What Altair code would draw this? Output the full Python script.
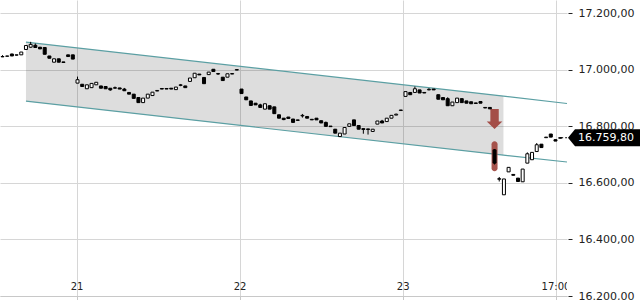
import altair as alt
import pandas as pd

# ---- candle data (one entry per bar, in time order) ----
opens = [17046, 17048, 17056, 17052, 17053, 17072, 17080, 17087, 17080, 17079,
         17049, 17027, 17039, 17028, 17053, 17053, 16953, 16949, 16933, 16937,
         16947, 16943, 16941, 16935, 16935, 16936, 16932, 16920, 16914, 16902,
         16884, 16900, 16909, 16925, 16934, 16932, 16935, 16930, 16945, 16943,
         16959, 16972, 16985, 16973, 16983, 17002, 16985, 16974, 16974, 16985,
         16999, 16932, 16904, 16890, 16882, 16876, 16861, 16873, 16869, 16841,
         16829, 16833, 16826, 16821, 16837, 16835, 16825, 16829, 16820, 16814,
         16801, 16790, 16764, 16773, 16800, 16823, 16803, 16792, 16791, 16782,
         16808, 16819, 16817, 16829, 16840, 16856, 16906, 16920, 16920, 16929,
         16920, 16929, 16932, 16912, 16902, 16898, 16873, 16884, 16898, 16890,
         16887, 16883, 16888, 16867, 16867, 16717, 16613, 16558, 16639, 16630,
         16617, 16604, 16670, 16682, 16711, 16737, 16760, 16773, 16753, 16758]
highs = [17052, 17049, 17057, 17053, 17063, 17086, 17099, 17093, 17081, 17080,
         17049, 17039, 17039, 17028, 17053, 17053, 16976, 16949, 16947, 16952,
         16956, 16943, 16941, 16935, 16941, 16936, 16936, 16920, 16914, 16902,
         16900, 16914, 16921, 16927, 16934, 16934, 16935, 16939, 16950, 16943,
         16971, 16988, 16985, 16973, 16992, 17002, 16989, 16974, 16986, 16987,
         17001, 16932, 16904, 16890, 16882, 16880, 16880, 16873, 16869, 16841,
         16829, 16833, 16826, 16823, 16844, 16835, 16825, 16829, 16820, 16817,
         16801, 16790, 16776, 16796, 16809, 16823, 16803, 16792, 16791, 16790,
         16819, 16823, 16829, 16839, 16845, 16858, 16923, 16920, 16941, 16929,
         16920, 16935, 16932, 16912, 16902, 16903, 16886, 16900, 16898, 16890,
         16887, 16883, 16888, 16867, 16867, 16720, 16621, 16614, 16655, 16630,
         16617, 16649, 16708, 16708, 16741, 16737, 16762, 16773, 16753, 16760]
lows = [17045, 17047, 17049, 17051, 17053, 17072, 17078, 17078, 17074, 17055,
        17041, 17027, 17027, 17026, 17047, 17038, 16953, 16941, 16933, 16937,
        16947, 16935, 16933, 16926, 16933, 16932, 16926, 16914, 16899, 16884,
        16884, 16900, 16909, 16925, 16932, 16932, 16932, 16930, 16942, 16937,
        16959, 16972, 16982, 16951, 16983, 16994, 16982, 16962, 16974, 16985,
        16999, 16916, 16894, 16874, 16876, 16867, 16861, 16861, 16845, 16829,
        16822, 16828, 16814, 16821, 16831, 16829, 16823, 16823, 16812, 16800,
        16799, 16776, 16764, 16773, 16800, 16803, 16790, 16774, 16771, 16782,
        16808, 16812, 16817, 16829, 16840, 16856, 16906, 16912, 16920, 16918,
        16918, 16928, 16929, 16896, 16894, 16873, 16873, 16884, 16884, 16882,
        16880, 16881, 16882, 16865, 16862, 16665, 16605, 16558, 16639, 16627,
        16605, 16604, 16670, 16682, 16711, 16725, 16760, 16762, 16748, 16758]
closes = [17047, 17049, 17049, 17053, 17063, 17086, 17090, 17079, 17074, 17055,
          17041, 17039, 17027, 17026, 17047, 17038, 16965, 16941, 16947, 16952,
          16956, 16935, 16933, 16929, 16937, 16932, 16926, 16914, 16899, 16884,
          16900, 16914, 16921, 16927, 16932, 16934, 16932, 16939, 16947, 16937,
          16971, 16988, 16982, 16951, 16992, 16994, 16987, 16962, 16986, 16987,
          17001, 16916, 16894, 16874, 16876, 16867, 16880, 16861, 16845, 16829,
          16824, 16828, 16814, 16823, 16839, 16829, 16823, 16823, 16812, 16800,
          16799, 16776, 16776, 16796, 16809, 16803, 16790, 16789, 16789, 16790,
          16819, 16812, 16829, 16839, 16843, 16858, 16923, 16912, 16933, 16918,
          16918, 16931, 16929, 16896, 16894, 16873, 16886, 16900, 16884, 16882,
          16880, 16881, 16882, 16865, 16862, 16670, 16615, 16614, 16655, 16627,
          16605, 16649, 16703, 16708, 16735, 16725, 16762, 16762, 16748, 16760]

# ---- time axis (bar index positions of day / time labels) ----
day_ticks = [15.9, 50.7, 85.5, 118.1]
day_labels = ["21", "22", "23", "17:00"]

# ---- trend channel anchors ----
channel_bar = [5.0, 106.9, 120.46]
channel_upper = [17098, 16907, 16881]
channel_lower = [16889, 16698, 16674]

# ---- signal (down arrow + highlighted candle) ----
signal_bar = [105]
signal_arrow_price = [16826]
signal_band_top = [16747]
signal_band_bottom = [16641]

last_price = 16759.80
y_ticks = [16200, 16400, 16600, 16800, 17000, 17200]

X_DOMAIN = [-0.54, 120.46]
Y_DOMAIN = [16200, 17247]
W, H = 567, 296
FONT = "DejaVu Sans"
GRID = "#d6d6d6"
TEAL = "#5b9fa3"
SIGNAL = "#a0463f"
DE_FMT = "replace(replace(replace(format({v}, ',.2f'), ',', '#'), '.', ','), '#', '.')"

candles = pd.DataFrame({"bar": list(range(len(opens))), "open": opens,
                        "high": highs, "low": lows, "close": closes})
channel = pd.DataFrame({"bar": channel_bar, "upper": channel_upper, "lower": channel_lower})
shade = channel.iloc[:2]
days = pd.DataFrame({"bar": day_ticks, "label": day_labels})
signal = pd.DataFrame({"bar": signal_bar, "arrow": signal_arrow_price,
                       "top": signal_band_top, "bottom": signal_band_bottom})
last = pd.DataFrame({"bar": [len(opens) - 1], "end": [X_DOMAIN[1]], "price": [last_price]})

xs = alt.Scale(domain=X_DOMAIN, nice=False, zero=False, padding=0)
ys = alt.Scale(domain=Y_DOMAIN, nice=False, zero=False, padding=0)

x_axis = alt.Axis(values=day_ticks, grid=True, gridColor=GRID, labels=False,
                  ticks=True, tickSize=4, tickColor="#c8c8c8", domain=True,
                  domainColor="#c8c8c8", title=None)
y_axis = alt.Axis(orient="right", values=y_ticks, grid=True, gridColor=GRID,
                  domain=False, ticks=True, tickSize=4, tickColor="#222222",
                  offset=1, labelPadding=6, labelFont=FONT, labelFontSize=11,
                  labelColor="#222222", labelExpr=DE_FMT.format(v="datum.value"),
                  title=None)


def X(field):
    return alt.X(field, scale=xs, axis=x_axis)


def Y(field):
    return alt.Y(field, scale=ys, axis=y_axis)


area = alt.Chart(shade).mark_area(color="black", opacity=0.135).encode(
    x=X("bar:Q"), y=Y("upper:Q"), y2="lower:Q",
)
upper_line = alt.Chart(channel).mark_line(color=TEAL, strokeWidth=1.2).encode(
    x=X("bar:Q"), y=Y("upper:Q"),
)
lower_line = alt.Chart(channel).mark_line(color=TEAL, strokeWidth=1.2).encode(
    x=X("bar:Q"), y=Y("lower:Q"),
)
day_text = alt.Chart(days).mark_text(clip=True, font=FONT, fontSize=10,
                                      color="#222222", baseline="middle").encode(
    x=X("bar:Q"), y=alt.value(287), text="label:N",
)
band = alt.Chart(signal).mark_bar(size=6, cornerRadius=3, color=SIGNAL, opacity=0.92).encode(
    x=X("bar:Q"), y=Y("top:Q"), y2="bottom:Q",
)
arrow_path = "M-0.42,-1L0.42,-1L0.42,0.24L0.78,0.24L0,1L-0.78,0.24L-0.42,0.24Z"
arrow = alt.Chart(signal).mark_point(shape=arrow_path, size=400, filled=True,
                                     color=SIGNAL, opacity=0.95).encode(
    x=X("bar:Q"), y=Y("arrow:Q"),
)
wicks = alt.Chart(candles).mark_rule(color="black", strokeWidth=1).encode(
    x=X("bar:Q"), y=Y("low:Q"), y2="high:Q",
)
bodies = alt.Chart(candles).mark_bar(size=3, stroke="black", strokeWidth=1).encode(
    x=X("bar:Q"), y=Y("open:Q"), y2="close:Q",
    fill=alt.condition("datum.close > datum.open", alt.value("white"), alt.value("black")),
)
last_line = alt.Chart(last).mark_rule(color="black", strokeWidth=1, strokeDash=[3, 2]).encode(
    x=X("bar:Q"), x2="end:Q", y=Y("price:Q"),
)
box_path = "M-1,0L-0.825,-0.2125L1,-0.2125L1,0.2125L-0.825,0.2125Z"
last_box = alt.Chart(last).mark_point(shape=box_path, size=6400, filled=True,
                                      color="black", opacity=1).encode(
    x=alt.value(W + 41), y=Y("price:Q"),
)
last_text = alt.Chart(last).transform_calculate(
    txt=DE_FMT.format(v="datum.price")
).mark_text(align="left", baseline="middle", color="white", font=FONT, fontSize=11).encode(
    x=alt.value(W + 11), y=Y("price:Q"), text="txt:N",
)

chart = alt.layer(
    area, upper_line, lower_line, day_text, band, arrow, wicks, bodies,
    last_line, last_box, last_text,
).properties(
    width=W, height=H,
    autosize=alt.AutoSizeParams(type="none"),
    padding={"left": 0, "top": 0, "right": 73, "bottom": 4},
    background="white",
).configure_view(stroke=None)

chart.save("out.html", embed_options={"renderer": "svg", "actions": False})
